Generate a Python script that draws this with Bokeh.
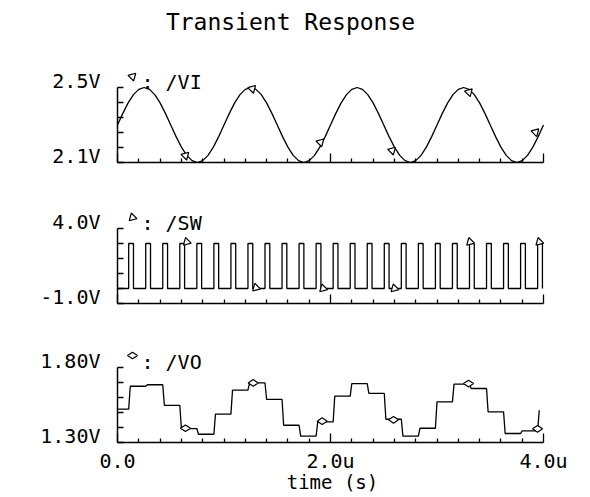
from bokeh.plotting import figure
from bokeh.models import Range1d, FixedTicker, Label, LinearAxis
from bokeh.layouts import column
from bokeh.embed import file_html
from bokeh.resources import INLINE

# ---------------- data (time in microseconds, values in volts) ----------------
title_text = "Transient Response"
x_axis_title = "time (s)"
x_tick_values = [0, 2, 4]
x_tick_labels = ["0.0", "2.0u", "4.0u"]
x_minor_ticks = [0.2, 0.4, 0.6, 0.8, 1.0, 1.2, 1.4, 1.6, 1.8,
                 2.2, 2.4, 2.6, 2.8, 3.0, 3.2, 3.4, 3.6, 3.8]

# /VI : sinusoidal input, read every 0.05 us
vi_time_us = [0.00, 0.05, 0.10, 0.15, 0.20, 0.25, 0.30, 0.35, 0.40, 0.45,
              0.50, 0.55, 0.60, 0.65, 0.70, 0.75, 0.80, 0.85, 0.90, 0.95,
              1.00, 1.05, 1.10, 1.15, 1.20, 1.25, 1.30, 1.35, 1.40, 1.45,
              1.50, 1.55, 1.60, 1.65, 1.70, 1.75, 1.80, 1.85, 1.90, 1.95,
              2.00, 2.05, 2.10, 2.15, 2.20, 2.25, 2.30, 2.35, 2.40, 2.45,
              2.50, 2.55, 2.60, 2.65, 2.70, 2.75, 2.80, 2.85, 2.90, 2.95,
              3.00, 3.05, 3.10, 3.15, 3.20, 3.25, 3.30, 3.35, 3.40, 3.45,
              3.50, 3.55, 3.60, 3.65, 3.70, 3.75, 3.80, 3.85, 3.90, 3.95,
              4.00]
vi_volts = [2.300, 2.362, 2.418, 2.462, 2.490, 2.500, 2.490, 2.462, 2.418, 2.362,
            2.300, 2.238, 2.182, 2.138, 2.110, 2.100, 2.110, 2.138, 2.182, 2.238,
            2.300, 2.362, 2.418, 2.462, 2.490, 2.500, 2.490, 2.462, 2.418, 2.362,
            2.300, 2.238, 2.182, 2.138, 2.110, 2.100, 2.110, 2.138, 2.182, 2.238,
            2.300, 2.362, 2.418, 2.462, 2.490, 2.500, 2.490, 2.462, 2.418, 2.362,
            2.300, 2.238, 2.182, 2.138, 2.110, 2.100, 2.110, 2.138, 2.182, 2.238,
            2.300, 2.362, 2.418, 2.462, 2.490, 2.500, 2.490, 2.462, 2.418, 2.362,
            2.300, 2.238, 2.182, 2.138, 2.110, 2.100, 2.110, 2.138, 2.182, 2.238,
            2.300]
vi_marker_time_us = [0.638, 1.265, 1.906, 2.579, 3.300, 3.925]
vi_marker_volts = [2.137, 2.493, 2.208, 2.164, 2.475, 2.262]
vi_ticks = [2.10, 2.18, 2.26, 2.34, 2.42, 2.50]
vi_range = (2.1, 2.5)
vi_labels = ("2.1V", "2.5V")
vi_name = ": /VI"

# /SW : switching pulses (rise times in us, pulse width, levels)
sw_rise_us = [0.105, 0.265, 0.425, 0.585, 0.745, 0.905, 1.065, 1.225, 1.385, 1.545,
              1.705, 1.865, 2.025, 2.185, 2.345, 2.505, 2.665, 2.825, 2.985, 3.145,
              3.305, 3.465, 3.625, 3.785, 3.945]
sw_width_us = 0.045
sw_low_v = 0.0
sw_high_v = 3.0
sw_marker_time_us = [0.650, 1.300, 1.930, 2.600, 3.310, 3.960]
sw_marker_volts = [3.10, 0.05, 0.00, 0.00, 3.10, 3.10]
sw_ticks = [-1.0, 0.0, 1.0, 2.0, 3.0, 4.0]
sw_range = (-1.0, 4.0)
sw_labels = ("-1.0V", "4.0V")
sw_name = ": /SW"

# /VO : sampled-and-held output, level held after each SW pulse
vo_levels = [1.522, 1.675, 1.685, 1.548, 1.393, 1.355, 1.489, 1.649, 1.697, 1.587,
             1.415, 1.342, 1.437, 1.609, 1.693, 1.627, 1.455, 1.342, 1.395, 1.571,
             1.689, 1.660, 1.504, 1.360, 1.377, 1.515]
vo_marker_time_us = [0.638, 1.274, 1.922, 2.592, 3.296, 3.944]
vo_marker_volts = [1.395, 1.697, 1.442, 1.451, 1.693, 1.391]
vo_ticks = [1.30, 1.40, 1.50, 1.60, 1.70, 1.80]
vo_range = (1.30, 1.80)
vo_labels = ("1.30V", "1.80V")
vo_name = ": /VO"

# ---------------- layout / style ----------------
FONT = "DejaVu Sans Mono"
PX_PER_US = 106.5
FRAME_W = 430
SPINE_H = 75
LEFT = 117
RIGHT = 41
LW = 1.3


def make_panel(yr, ticks, labels, name, head, border_top, border_bottom, last):
    lo, hi = yr
    vpp = (hi - lo) / SPINE_H
    p = figure(frame_width=FRAME_W, frame_height=SPINE_H + head,
               x_range=Range1d(0, FRAME_W / PX_PER_US),
               y_range=Range1d(lo, hi + head * vpp),
               min_border_left=LEFT, min_border_right=RIGHT,
               min_border_top=border_top, min_border_bottom=border_bottom,
               output_backend="svg", toolbar_location=None, title=None)
    p.outline_line_color = None
    p.grid.visible = False
    p.background_fill_color = "white"
    p.border_fill_color = "white"

    xa = p.xaxis[0]
    xa.bounds = (0, 4)
    xa.ticker = FixedTicker(ticks=x_tick_values, minor_ticks=x_minor_ticks)
    xa.axis_line_color = "black"
    xa.axis_line_width = 1.5
    xa.major_tick_line_color = "black"
    xa.minor_tick_line_color = "black"
    xa.major_tick_line_width = LW
    xa.minor_tick_line_width = LW
    xa.major_tick_in = 9
    xa.major_tick_out = 0
    xa.minor_tick_in = 4
    xa.minor_tick_out = 0
    xa.major_label_text_font = FONT
    xa.major_label_text_font_size = "20px"
    xa.major_label_text_color = "black"
    xa.major_label_standoff = 6
    if last:
        xa.major_label_overrides = {v: t for v, t in zip(x_tick_values, x_tick_labels)}
        xa.axis_label = x_axis_title
        xa.axis_label_text_font = FONT
        xa.axis_label_text_font_size = "19px"
        xa.axis_label_text_font_style = "normal"
        xa.axis_label_text_color = "black"
        xa.axis_label_standoff = -5
    else:
        xa.major_label_overrides = {v: "" for v in x_tick_values}

    ya = p.yaxis[0]
    ya.bounds = (lo, hi)
    ya.ticker = FixedTicker(ticks=[], minor_ticks=ticks)
    ya.axis_line_color = "black"
    ya.axis_line_width = 1.5
    ya.minor_tick_line_color = "black"
    ya.minor_tick_line_width = LW
    ya.minor_tick_in = 6
    ya.minor_tick_out = 0
    ya.major_tick_line_color = None

    # second (label-only) left axis: label baselines sit on the end values
    lab_pos = [lo + 7 * vpp, hi + 7 * vpp]
    la = LinearAxis(ticker=FixedTicker(ticks=lab_pos, minor_ticks=[]),
                    major_label_overrides={lab_pos[0]: labels[0], lab_pos[1]: labels[1]},
                    axis_line_color=None, major_tick_line_color=None,
                    minor_tick_line_color=None, major_tick_in=0, major_tick_out=0,
                    major_label_standoff=17, major_label_text_font=FONT,
                    major_label_text_font_size="20px", major_label_text_color="black")
    p.add_layout(la, "left")

    p.add_layout(Label(x=24 / PX_PER_US, y=hi + 6 * vpp, text=name, text_font=FONT,
                       text_font_size="20px", text_align="left",
                       text_baseline="alphabetic", text_color="black"))
    return p, vpp


# Panel 1 : /VI  (frame extended upward to hold the title)
p1, v1 = make_panel(vi_range, vi_ticks, vi_labels, vi_name, 87, 0, 23, False)
p1.line(vi_time_us, vi_volts, line_color="black", line_width=LW)
p1.scatter(vi_marker_time_us, vi_marker_volts, marker="triangle", angle=-0.785,
           size=8, fill_color="white", line_color="black", line_width=1.2)
p1.scatter([15 / PX_PER_US], [vi_range[1] + 11 * v1], marker="triangle", angle=-0.785,
           size=8, fill_color="white", line_color="black", line_width=1.2)
p1.add_layout(Label(x=173 / PX_PER_US, y=vi_range[1] + 66 * v1, text=title_text,
                    text_font=FONT, text_font_size="23px", text_align="center",
                    text_baseline="middle", text_color="black"))

# Panel 2 : /SW
sw_x = [0.0]
sw_y = [sw_low_v]
for r in sw_rise_us:
    f = min(r + sw_width_us, 4.0)
    sw_x += [r, r, f, f]
    sw_y += [sw_low_v, sw_high_v, sw_high_v, sw_low_v]
p2, v2 = make_panel(sw_range, sw_ticks, sw_labels, sw_name, 25, 18, 22, False)
p2.line(sw_x, sw_y, line_color="black", line_width=LW)
p2.scatter(sw_marker_time_us, sw_marker_volts, marker="triangle", angle=2.356,
           size=8, fill_color="white", line_color="black", line_width=1.2)
p2.scatter([15 / PX_PER_US], [sw_range[1] + 11 * v2], marker="triangle", angle=2.356,
           size=8, fill_color="white", line_color="black", line_width=1.2)

# Panel 3 : /VO
vo_x = [0.0]
vo_y = [vo_levels[0]]
for k, r in enumerate(sw_rise_us):
    vo_x += [r, r + 0.015]
    vo_y += [vo_levels[k], vo_levels[k + 1]]
p3, v3 = make_panel(vo_range, vo_ticks, vo_labels, vo_name, 25, 17, 53, True)
p3.line(vo_x, vo_y, line_color="black", line_width=LW)
p3.scatter(vo_marker_time_us, vo_marker_volts, marker="diamond", angle=1.5708,
           size=10, fill_color="white", line_color="black", line_width=1.2)
p3.scatter([15 / PX_PER_US], [vo_range[1] + 12 * v3], marker="diamond", angle=1.5708,
           size=10, fill_color="white", line_color="black", line_width=1.2)

layout = column(p1, p2, p3, spacing=0)
open("out.html", "w").write(file_html(layout, INLINE))
